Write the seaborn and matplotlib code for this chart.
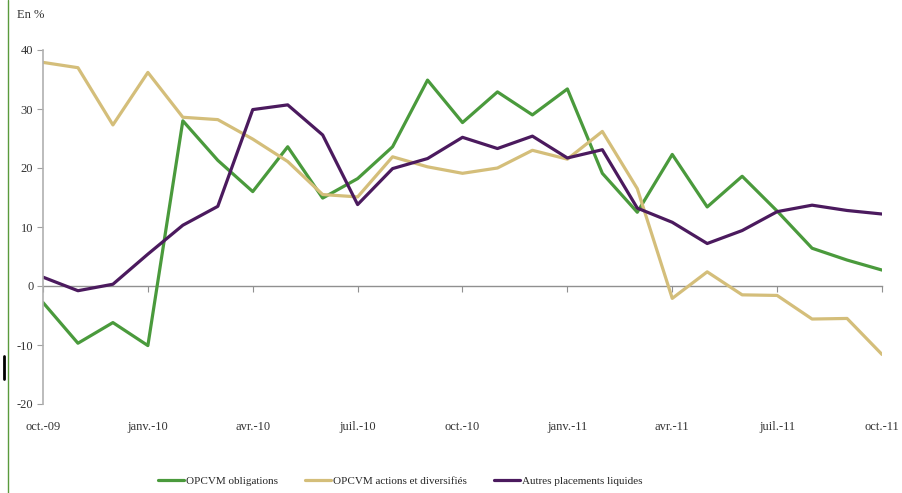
import matplotlib.pyplot as plt
import matplotlib.lines as mlines
import seaborn as sns
import pandas as pd

# Monthly data, oct.-09 to oct.-11 (en %)
months = list(range(25))
tick_pos = list(range(0, 25, 3))
tick_labels = ["oct.-09", "janv.-10", "avr.-10", "juil.-10", "oct.-10",
               "janv.-11", "avr.-11", "juil.-11", "oct.-11"]

obligations = [-2.8, -9.7, -6.2, -10.1, 28.0, 21.3, 16.0, 23.6, 14.9, 18.2,
               23.6, 34.9, 27.7, 32.9, 29.0, 33.4, 19.1, 12.5, 22.3, 13.4,
               18.6, 12.7, 6.4, 4.4, 2.7]
actions = [37.9, 37.0, 27.3, 36.2, 28.6, 28.2, 24.9, 21.1, 15.5, 15.1,
           21.9, 20.2, 19.1, 20.0, 23.0, 21.5, 26.2, 16.5, -2.1, 2.4,
           -1.5, -1.6, -5.6, -5.5, -11.6]
liquides = [1.5, -0.8, 0.3, 5.4, 10.3, 13.5, 29.9, 30.7, 25.6, 13.8,
            19.9, 21.6, 25.2, 23.3, 25.4, 21.7, 23.1, 13.2, 10.8, 7.2,
            9.4, 12.6, 13.7, 12.8, 12.2]

series = ["OPCVM obligations", "OPCVM actions et diversifiés", "Autres placements liquides"]
colors = ["#4a9a3c", "#d4be7a", "#4b1a5e"]

df = pd.DataFrame({
    "mois": months * 3,
    "valeur": obligations + actions + liquides,
    "serie": [series[0]] * 25 + [series[1]] * 25 + [series[2]] * 25,
})

sns.set_style("white")
plt.rcParams['font.family'] = ['Liberation Serif', 'DejaVu Serif']
plt.rcParams['font.size'] = 9
plt.rcParams['axes.unicode_minus'] = False

fig = plt.figure(figsize=(9.02, 4.93), dpi=100)
ax = fig.add_axes([43 / 902, 1 - 404 / 493, (882 - 43) / 902, (404 - 50) / 493])

sns.lineplot(data=df, x="mois", y="valeur", hue="serie", palette=colors,
             linewidth=2.3, sort=False, legend=False, ax=ax)

ax.set_xlim(0, 24)
ax.set_ylim(-20, 40)
ax.set_xlabel("")
ax.set_ylabel("")
ax.set_yticks([-20, -10, 0, 10, 20, 30, 40])
ax.set_xticks(tick_pos)
ax.set_xticklabels(tick_labels)
ax.tick_params(axis='x', length=0, pad=12, colors='#333333', labelsize=9)
ax.tick_params(axis='y', direction='out', length=4, width=0.8, color='#a0a0a0',
               pad=3, labelcolor='#333333', labelsize=9)
ax.tick_params(axis='y', left=True)
for s in ['top', 'right', 'bottom']:
    ax.spines[s].set_visible(False)
ax.spines['left'].set_color('#b0b0b0')
ax.spines['left'].set_linewidth(1.2)

# axe des abscisses au niveau zéro
secax = ax.secondary_xaxis(1 / 3)
secax.set_xticks(tick_pos)
secax.tick_params(axis='x', direction='out', length=4, width=0.8, color='#909090',
                  labelbottom=False)
for s in secax.spines.values():
    s.set_visible(False)
secax.spines['bottom'].set_visible(True)
secax.spines['bottom'].set_color('#909090')
secax.spines['bottom'].set_linewidth(1.0)

fig.text(17 / 902, 1 - 15 / 493, "En %", fontsize=9, color='#333333', va='center')

handles = [mlines.Line2D([], [], color=c, linewidth=2.3) for c in colors]
fig.legend(handles, series, loc='center', bbox_to_anchor=(400 / 902, 1 - 481 / 493),
           ncol=3, frameon=False, fontsize=8, handlelength=2.4, handletextpad=0.15,
           columnspacing=2.4)

# bords de la capture
fig.add_artist(mlines.Line2D([8 / 902, 8 / 902], [0, 1], color='#5a9a3c', linewidth=1.0))
fig.add_artist(mlines.Line2D([4 / 902, 4 / 902], [1 - 356 / 493, 1 - 379 / 493],
                             color='black', linewidth=2.0))

fig.savefig("out.png", dpi=100)
